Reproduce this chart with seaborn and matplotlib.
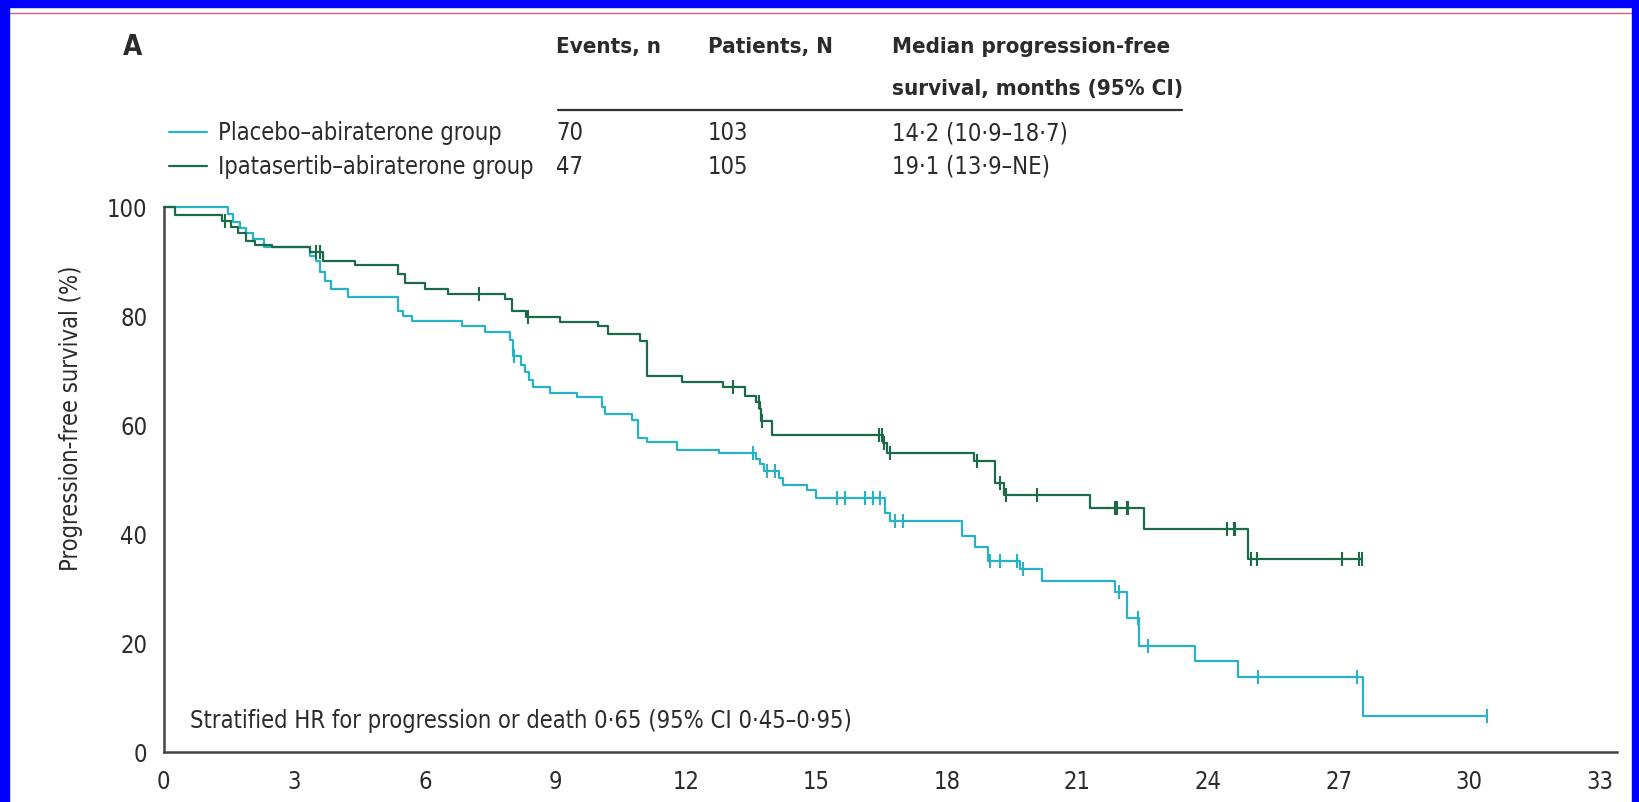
import numpy as np
import pandas as pd
import matplotlib
matplotlib.use("Agg")
import matplotlib.pyplot as plt
from matplotlib.lines import Line2D
from matplotlib.patches import Rectangle
import seaborn as sns

# ---------------- data ----------------
groups = ["Placebo–abiraterone group", "Ipatasertib–abiraterone group"]
events = ["70", "47"]
patients = ["103", "105"]
medians = ["14·2 (10·9–18·7)", "19·1 (13·9–NE)"]

placebo_times = [0, 1.48, 1.6, 1.75, 1.9, 2.05, 2.3, 3.36, 3.5, 3.6, 3.7, 3.85, 4.24,
                 5.39, 5.5, 5.7, 6.85, 7.38, 7.96, 8.02, 8.2, 8.3, 8.4, 8.49, 8.88,
                 9.49, 10.07, 10.15, 10.76, 10.9, 11.1, 11.79, 12.75, 13.6, 13.7, 13.8,
                 14.15, 14.24, 14.78, 15.0, 16.58, 16.7, 18.34, 18.65, 18.95, 19.68,
                 20.18, 21.87, 22.14, 22.42, 23.71, 24.7, 27.57]
placebo_surv = [100, 98.7, 97.2, 96.2, 95.2, 94.2, 92.7, 91.0, 90.1, 88.0, 86.5, 84.9, 83.4,
                80.9, 80.0, 79.0, 78.2, 77.0, 75.6, 72.6, 71.1, 69.8, 68.3, 66.9, 65.9,
                65.2, 63.3, 62.1, 60.9, 57.7, 56.9, 55.4, 54.8, 53.7, 52.8, 51.6,
                50.3, 48.9, 48.0, 46.6, 43.9, 42.3, 39.6, 37.7, 35.0, 33.5,
                31.3, 29.3, 24.6, 19.4, 16.7, 13.7, 6.6]
placebo_censor = [8.06, 13.55, 13.86, 14.05, 15.47, 15.66, 16.12, 16.31, 16.46, 16.81,
                  17.0, 19.0, 19.22, 19.6, 19.75, 21.95, 22.38, 22.63, 25.16, 27.42, 30.41]

ipat_times = [0, 0.26, 1.33, 1.55, 1.7, 1.9, 2.1, 2.48, 3.36, 3.65, 4.4, 5.39, 5.55,
              6.0, 6.54, 7.84, 8.0, 8.32, 9.11, 9.99, 10.2, 10.95, 11.1, 11.9, 12.86,
              13.35, 13.6, 13.7, 13.72, 13.97, 16.53, 16.62, 18.61, 19.11, 19.3, 21.29,
              22.52, 24.93]
ipat_surv = [100, 98.6, 97.5, 96.3, 95.3, 93.8, 93.1, 92.6, 91.7, 90.1, 89.4, 87.7, 86.0,
             84.9, 84.0, 83.1, 81.0, 79.9, 78.9, 78.2, 76.7, 75.4, 69.0, 67.8, 66.9,
             65.3, 64.2, 62.9, 60.8, 58.1, 56.7, 54.8, 53.4, 49.4, 47.2, 44.7,
             41.0, 35.4]
ipat_censor = [1.41, 3.5, 3.59, 7.24, 8.38, 13.09, 13.67, 13.76, 16.43, 16.5, 16.56, 16.69,
               18.7, 19.22, 19.36, 20.07, 21.87, 21.9, 22.14, 22.17, 24.43, 24.59, 24.62,
               24.98, 25.12, 27.08, 27.46, 27.54]

colors = {groups[0]: "#27b2c6", groups[1]: "#1b6b48"}


def step_at(times, surv, t):
    idx = np.searchsorted(np.asarray(times), t, side="right") - 1
    return np.asarray(surv)[idx]


line_rows, cens_rows = [], []
for g, tt, ss, cc in [(groups[0], placebo_times, placebo_surv, placebo_censor),
                      (groups[1], ipat_times, ipat_surv, ipat_censor)]:
    t_all = list(tt) + [max(cc)]
    s_all = list(ss) + [ss[-1]]
    for t, s in zip(t_all, s_all):
        line_rows.append({"group": g, "month": t, "pfs": s})
    for t in cc:
        cens_rows.append({"group": g, "month": t, "pfs": float(step_at(tt, ss, t))})
lines_df = pd.DataFrame(line_rows)
cens_df = pd.DataFrame(cens_rows)

# ---------------- figure ----------------
sns.set_theme(style="white")
plt.rcParams["font.family"] = ["DejaVu Sans"]
plt.rcParams["font.stretch"] = "condensed"
TXT = "#2b2b2b"
AX = "#444444"
FS = 17
FSB = 16

fig = plt.figure(figsize=(16.4, 8.03), dpi=100)
fig.patch.set_facecolor("white")
ax = fig.add_axes([163.8 / 1640, 50 / 803, (1617 - 163.8) / 1640, 545 / 803])

for g in groups:
    sub = lines_df[lines_df["group"] == g]
    sns.lineplot(data=sub, x="month", y="pfs", color=colors[g], drawstyle="steps-post",
                 estimator=None, sort=False, linewidth=1.6, ax=ax, clip_on=False)
    csub = cens_df[cens_df["group"] == g]
    ax.plot(csub["month"], csub["pfs"], linestyle="none", marker="|", markersize=10,
            markeredgewidth=1.5, color=colors[g], clip_on=False)

ax.set_xlim(0, 33.4)
ax.set_ylim(0, 100)
ax.set_xticks(range(0, 34, 3))
ax.set_yticks(range(0, 101, 20))
ax.set_xlabel("")
ax.set_ylabel("")
for side in ["top", "right"]:
    ax.spines[side].set_visible(False)
for side in ["left", "bottom"]:
    ax.spines[side].set_color(AX)
    ax.spines[side].set_linewidth(1.8)
ax.tick_params(axis="both", direction="out", length=7, width=1.5, color=AX,
               labelsize=FS, labelcolor=TXT, pad=5)
ax.set_facecolor("white")

fig.text(71 / 1640, 1 - 418 / 803, "Progression-free survival (%)", rotation=90,
         ha="center", va="center", fontsize=FS, color=TXT)

ax.text(0.6, 5.9, "Stratified HR for progression or death 0·65 (95% CI 0·45–0·95)",
        ha="left", va="center", fontsize=FS, color=TXT)

# header table
fig.text(123 / 1640, 1 - 47 / 803, "A", fontsize=20, fontweight="bold", color=TXT,
         ha="left", va="center")
fig.text(556 / 1640, 1 - 47 / 803, "Events, n", fontsize=FSB, fontweight="bold",
         color=TXT, ha="left", va="center")
fig.text(708 / 1640, 1 - 47 / 803, "Patients, N", fontsize=FSB, fontweight="bold",
         color=TXT, ha="left", va="center")
fig.text(892 / 1640, 1 - 47 / 803, "Median progression-free", fontsize=FSB,
         fontweight="bold", color=TXT, ha="left", va="center")
fig.text(892 / 1640, 1 - 89 / 803, "survival, months (95% CI)", fontsize=FSB,
         fontweight="bold", color=TXT, ha="left", va="center")
fig.add_artist(Line2D([558 / 1640, 1182 / 1640], [1 - 111 / 803, 1 - 111 / 803],
                      color="#333333", linewidth=1.6, transform=fig.transFigure))

row_y = [1 - 133 / 803, 1 - 167 / 803]
for g, ev, pt, md, y in zip(groups, events, patients, medians, row_y):
    fig.add_artist(Line2D([169 / 1640, 207 / 1640], [y, y], color=colors[g],
                          linewidth=1.6, transform=fig.transFigure))
    fig.text(218 / 1640, y, g, fontsize=FS, color=TXT, ha="left", va="center")
    fig.text(556 / 1640, y, ev, fontsize=FS, color=TXT, ha="left", va="center")
    fig.text(708 / 1640, y, pt, fontsize=FS, color=TXT, ha="left", va="center")
    fig.text(892 / 1640, y, md, fontsize=FS, color=TXT, ha="left", va="center")

# blue frame of the screenshot
blue = "#0000ff"
fig.patches.append(Rectangle((0, 0), 9 / 1640, 1, transform=fig.transFigure,
                             color=blue, zorder=10))
fig.patches.append(Rectangle((1 - 8 / 1640, 0), 8 / 1640, 1, transform=fig.transFigure,
                             color=blue, zorder=10))
fig.patches.append(Rectangle((0, 1 - 8 / 803), 1, 8 / 803, transform=fig.transFigure,
                             color=blue, zorder=10))
fig.add_artist(Line2D([9 / 1640, 1 - 8 / 1640], [1 - 14 / 803, 1 - 14 / 803],
                      color="#d0607e", linewidth=1.0, transform=fig.transFigure))

fig.savefig("out.png", dpi=100, facecolor="white")
